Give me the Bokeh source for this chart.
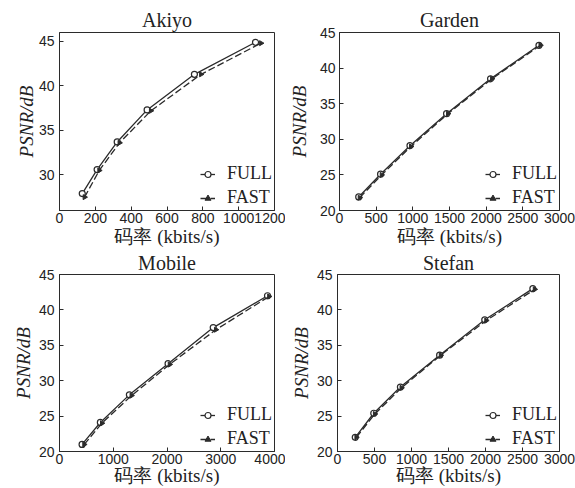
from math import pi
from bokeh.plotting import figure
from bokeh.layouts import column, row
from bokeh.models import Range1d, FixedTicker
from bokeh.embed import file_html
from bokeh.resources import INLINE

# ---------------- data ----------------
titles = ["Akiyo", "Garden", "Mobile", "Stefan"]

akiyo_full_x = [127, 210, 322, 489, 753, 1094]
akiyo_full_y = [27.9, 30.6, 33.7, 37.3, 41.3, 44.9]
akiyo_fast_x = [140, 222, 335, 510, 790, 1125]
akiyo_fast_y = [27.5, 30.5, 33.6, 37.2, 41.3, 44.8]

garden_full_x = [262, 560, 961, 1460, 2060, 2720]
garden_full_y = [21.9, 25.1, 29.1, 33.6, 38.5, 43.2]
garden_fast_x = [275, 575, 975, 1480, 2080, 2740]
garden_fast_y = [21.8, 25.0, 29.0, 33.6, 38.5, 43.2]

mobile_full_x = [420, 760, 1300, 2020, 2860, 3870]
mobile_full_y = [21.0, 24.1, 28.0, 32.4, 37.5, 42.0]
mobile_fast_x = [460, 790, 1340, 2050, 2910, 3900]
mobile_fast_y = [21.0, 24.0, 27.9, 32.3, 37.2, 41.9]

stefan_full_x = [240, 490, 850, 1380, 1990, 2640]
stefan_full_y = [22.0, 25.4, 29.1, 33.6, 38.6, 43.0]
stefan_fast_x = [255, 505, 865, 1395, 2010, 2665]
stefan_fast_y = [22.0, 25.3, 29.0, 33.6, 38.5, 42.9]

akiyo_xticks = [0, 200, 400, 600, 800, 1000, 1200]
garden_xticks = [0, 500, 1000, 1500, 2000, 2500, 3000]
mobile_xticks = [0, 1000, 2000, 3000, 4000]
stefan_xticks = [0, 500, 1000, 1500, 2000, 2500, 3000]
akiyo_yticks = [30, 35, 40, 45]
other_yticks = [20, 25, 30, 35, 40, 45]

x_label_text = "码率 (kbits/s)"
y_label_text = "PSNR/dB"
legend_names = ["FULL", "FAST"]

INK = "#2b2b2b"
TXT = "#222222"
SERIF = "Liberation Serif"
SANS = "Liberation Sans"


def panel(title, fx, fy, sx, sy, xr, yr, xticks, yticks, W, H, bl, br, bt, bb,
          title_standoff, xlab_standoff, ylab_standoff, ytick_standoff):
    p = figure(width=W, height=H, output_backend="svg", toolbar_location=None,
               min_border_left=bl, min_border_right=br, min_border_top=bt,
               min_border_bottom=bb, x_range=Range1d(*xr), y_range=Range1d(*yr),
               background_fill_color="white", border_fill_color="white")
    p.grid.visible = False
    p.outline_line_color = INK
    p.outline_line_width = 1

    p.title.text = title
    p.title.align = "center"
    p.title.text_font = SERIF
    p.title.text_font_size = "20px"
    p.title.text_font_style = "normal"
    p.title.text_color = TXT
    p.title.standoff = title_standoff

    for ax in (p.xaxis[0], p.yaxis[0]):
        ax.axis_line_color = INK
        ax.major_tick_line_color = INK
        ax.major_tick_in = 4
        ax.major_tick_out = 0
        ax.minor_tick_line_color = None
        ax.major_label_text_font = SANS
        ax.major_label_text_font_size = "14px"
        ax.major_label_text_color = TXT
        ax.axis_label_text_font = SERIF
        ax.axis_label_text_font_size = "19px"
        ax.axis_label_text_color = TXT
    p.xaxis.ticker = FixedTicker(ticks=xticks)
    p.yaxis.ticker = FixedTicker(ticks=yticks)
    p.xaxis.major_label_standoff = 2
    p.yaxis.major_label_standoff = ytick_standoff

    p.xaxis.axis_label = x_label_text
    p.xaxis.axis_label_text_font_style = "normal"
    p.xaxis.axis_label_standoff = xlab_standoff

    p.yaxis.axis_label = y_label_text
    p.yaxis.axis_label_text_font_style = "italic"
    p.yaxis.axis_label_standoff = ylab_standoff

    p.line(fx, fy, line_color=INK, line_width=1.3, legend_label=legend_names[0])
    p.scatter(fx, fy, marker="circle", size=6, line_color=INK, fill_color="white",
              line_width=1.2, legend_label=legend_names[0])
    p.line(sx, sy, line_color=INK, line_width=1.3, line_dash="7 3",
           legend_label=legend_names[1])
    p.scatter(sx, sy, marker="triangle", angle=-pi / 2, size=5, line_color=INK,
              fill_color=INK, legend_label=legend_names[1])

    lg = p.legend[0]
    lg.location = "bottom_right"
    lg.border_line_color = None
    lg.background_fill_alpha = 0
    lg.margin = 2
    lg.padding = 5
    lg.spacing = 3
    lg.label_height = 18
    lg.glyph_height = 18
    lg.glyph_width = 15
    lg.label_standoff = 12
    lg.label_text_font = SERIF
    lg.label_text_font_size = "18px"
    lg.label_text_color = TXT
    return p


p1 = panel(titles[0], akiyo_full_x, akiyo_full_y, akiyo_fast_x, akiyo_fast_y,
           (0, 1200), (26, 46), akiyo_xticks, akiyo_yticks,
           285, 249, 59, 11, 32, 39, 3, 0, -1, 5)
p2 = panel(titles[1], garden_full_x, garden_full_y, garden_fast_x, garden_fast_y,
           (0, 3000), (20, 45), garden_xticks, other_yticks,
           290, 249, 53, 16, 32, 38, 3, 0, 7, 4)
p3 = panel(titles[2], mobile_full_x, mobile_full_y, mobile_fast_x, mobile_fast_y,
           (0, 4000), (20, 45), mobile_xticks, other_yticks,
           285, 239, 59, 11, 20, 37, 1, -2, 2, 5)
p4 = panel(titles[3], stefan_full_x, stefan_full_y, stefan_fast_x, stefan_fast_y,
           (0, 3000), (20, 45), stefan_xticks, other_yticks,
           290, 239, 52, 16, 20, 37, 1, -2, 2, 5)

layout = column(row(p1, p2, spacing=0), row(p3, p4, spacing=0), spacing=0)

open("out.html", "w").write(file_html(layout, INLINE))
